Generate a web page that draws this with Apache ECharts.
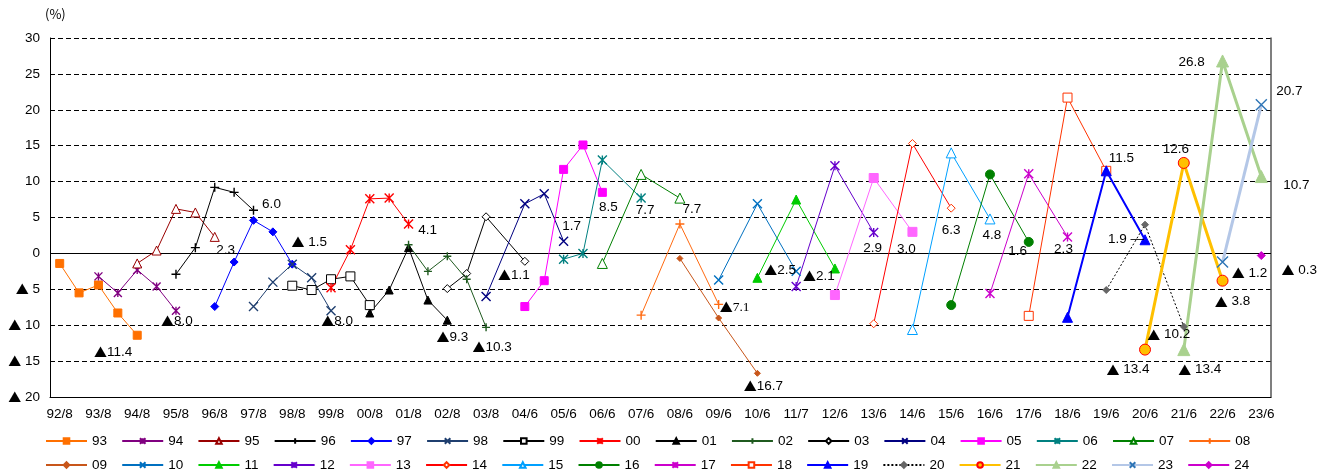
<!DOCTYPE html>
<html><head><meta charset="utf-8">
<script src="https://cdn.jsdelivr.net/npm/echarts@6/dist/echarts.min.js"></script>
<style>html,body{margin:0;padding:0;background:#fff}#c{width:1325px;height:473px}</style>
</head><body><div id="c"></div>
<script>
// ---- data ----
const xLabels = ['92/8','93/8','94/8','95/8','96/8','97/8','98/8','99/8','00/8','01/8','02/8','03/8',
  '04/6','05/6','06/6','07/6','08/6','09/6','10/6','11/7','12/6','13/6','14/6','15/6','16/6','17/6',
  '18/6','19/6','20/6','21/6','22/6','23/6'];
const yTicks = [-20,-15,-10,-5,0,5,10,15,20,25,30];
const seriesNames = ['93','94','95','96','97','98','99','00','01','02','03','04','05','06','07','08',
  '09','10','11','12','13','14','15','16','17','18','19','20','21','22','23','24'];
// first position (half-step slot on the axis) of each series
const seriesStart = [0,2,4,6,8,10,12,14,16,18,20,22,24,26,28,30,32,34,36,38,40,42,44,46,48,50,52,54,56,58,60,62];
const v93 = [-1.4, -5.5, -4.4, -8.3, -11.4];
const v94 = [-3.2, -5.5, -2.3, -4.6, -8.0];
const v95 = [-1.4, 0.4, 6.2, 5.7, 2.3];
const v96 = [-2.9, 0.8, 9.2, 8.5, 6.0];
const v97 = [-7.4, -1.2, 4.6, 3.0, -1.5];
const v98 = [-7.4, -4.0, -1.5, -3.4, -8.0];
const v99 = [-4.5, -5.1, -3.6, -3.2, -7.2];
const v00 = [-4.8, 0.5, 7.6, 7.7, 4.1];
const v01 = [-8.3, -5.1, 0.8, -6.5, -9.3];
const v02 = [1.2, -2.5, -0.4, -3.6, -10.3];
const v03 = [-4.9, -2.8, 5.1, null, -1.1];
const v04 = [-6.0, null, 6.9, 8.3, 1.7];
const v05 = [-7.4, -3.8, 11.7, 15.1, 8.5];
const v06 = [-0.8, 0.0, 13.0, null, 7.7];
const v07 = [-1.4, null, 11.0, null, 7.7];
const v08 = [-8.6, null, 4.1, null, -7.1];
const v09 = [-0.7, null, -9.0, null, -16.7];
const v10 = [-3.7, null, 6.9, null, -2.5];
const v11 = [-3.4, null, 7.5, null, -2.1];
const v12 = [-4.6, null, 12.2, null, 2.9];
const v13 = [-5.8, null, 10.5, null, 3.0];
const v14 = [-9.8, null, 15.3, null, 6.3];
const v15 = [-10.6, null, 14.0, null, 4.8];
const v16 = [-7.2, null, 11.0, null, 1.6];
const v17 = [-5.6, null, 11.1, null, 2.3];
const v18 = [-8.7, null, 21.7, null, 11.5];
const v19 = [-8.9, null, 11.5, null, 1.9];
const v20 = [-5.1, null, 4.0, null, -10.2];
const v21 = [-13.4, null, 12.6, null, -3.8];
const v22 = [-13.4, null, 26.8, null, 10.7];
const v23 = [-1.2, null, 20.7];
const v24 = [-0.3];
const seriesValues = [v93,v94,v95,v96,v97,v98,v99,v00,v01,v02,v03,v04,v05,v06,v07,v08,
  v09,v10,v11,v12,v13,v14,v15,v16,v17,v18,v19,v20,v21,v22,v23,v24];

// ---- styles ----
const SX = 'path://M0,0L10,10M10,0L0,10';
const SP = 'path://M5,0L5,10M0,5L10,5';
const SA = 'path://M0,0L10,10M10,0L0,10M5,0L5,10';
const styles = {
  '93':{c:'#FF7000', s:'rect', z:7},
  '94':{c:'#800080', s:SA, z:8, stroke:true},
  '95':{c:'#990000', s:'triangle', open:true, z:8},
  '96':{c:'#000000', s:SP, z:9, stroke:true},
  '97':{c:'#0000FF', s:'diamond', z:8},
  '98':{c:'#1F3F6F', s:SX, z:8, stroke:true},
  '99':{c:'#000000', s:'rect', open:true, z:8},
  '00':{c:'#FF0000', s:SA, z:8, stroke:true},
  '01':{c:'#000000', s:'triangle', z:8},
  '02':{c:'#1F5A1F', s:SP, z:8, stroke:true},
  '03':{c:'#000000', s:'diamond', open:true, z:7},
  '04':{c:'#000080', s:SX, z:8, stroke:true},
  '05':{c:'#FF00FF', s:'rect', z:8},
  '06':{c:'#008080', s:SA, z:8, stroke:true},
  '07':{c:'#008000', s:'triangle', open:true, z:8},
  '08':{c:'#FF6A10', s:SP, z:8, stroke:true},
  '09':{c:'#C8561A', s:'diamond', z:5},
  '10':{c:'#0070C0', s:SX, z:8, stroke:true},
  '11':{c:'#00CC00', s:'triangle', z:8},
  '12':{c:'#6600CC', s:SA, z:8, stroke:true},
  '13':{c:'#FF66FF', s:'rect', z:8},
  '14':{c:'#FF0000', s:'diamond', open:true, z:8, mc:'#FF3300'},
  '15':{c:'#00A0FF', s:'triangle', open:true, z:8},
  '16':{c:'#008000', s:'circle', z:8},
  '17':{c:'#CC00CC', s:SA, z:8, stroke:true},
  '18':{c:'#FF3300', s:'rect', open:true, z:8},
  '19':{c:'#0000FF', s:'triangle', z:8, w:2},
  '20':{c:'#000000', s:'diamond', z:8, dotted:true, mc:'#666666'},
  '21':{c:'#FFC000', s:'circle', z:8, w:3, border:'#FF0000'},
  '22':{c:'#A9D18E', s:'triangle', z:8, w:3},
  '23':{c:'#B4C7E7', s:SX, z:8, w:3, stroke:true, mc:'#2E75B6'},
  '24':{c:'#CC00CC', s:'diamond', z:8, w:3}
};
const sizes = {'93':8,'94':8,'95':9,'96':9,'97':8,'98':9,'99':9,'00':9,'01':8,'02':8,'03':8,'04':9,
  '05':8,'06':9,'07':10,'08':9,'09':6,'10':9,'11':9,'12':9,'13':9,'14':8,'15':10,'16':9,'17':9,'18':9,
  '19':10,'20':7,'21':11,'22':12,'23':11,'24':8};

// ---- data labels: [series, index in values, dx, dy, spaced ▲, serif] ----
const labelSpecs = [
  ['93',4,-24,17,false],['94',4,1,10,false],['95',4,11,13,false],['96',4,18,-6,false],
  ['97',4,17,-22,true],['98',4,6,10,false],['00',4,19,6,false],['01',4,5,17,false],
  ['02',4,6,20,false],['03',4,-11,14,false],['04',4,8,-15,false],['05',4,6,15,false],
  ['06',4,4,12,false],['07',4,12,11,false],['08',4,16,3,false,true],['09',4,6,13,false],
  ['10',4,-16,-1,false],['11',4,-16,8,false],['12',4,-1,16,false],['13',4,-6,17,false],
  ['14',4,0,22,false],['15',4,2,16,false],['16',4,-11,9,false],['17',4,-4,12,false],
  ['18',4,15,-13,false],['19',4,-19,0,false],['20',4,-15,8,true],
  ['21',0,-17,20,true],['21',2,-8,-14,true],['21',4,10,21,true],
  ['22',0,16,20,true],['22',2,-31,1,true],['22',4,35,9,true],
  ['23',0,27,11,true],['23',2,28,-13,true],['24',0,38,15,true]
];

const FONT = "'Liberation Sans', Arial, sans-serif";
const CJK = "'Noto Sans CJK JP', sans-serif";
const FS = 13.5;
const richT = {t: {fontFamily: CJK, fontSize: 13, color: '#000'}};
const fmtV = (v, sp) => v < 0 ? '{t|▲}' + (sp ? ' ' : '') + (-v).toFixed(1) : v.toFixed(1);

const NPOS = xLabels.length * 2 - 1;
const cats = [];
for (let i = 0; i < NPOS; i++) cats.push(i % 2 === 0 ? xLabels[i / 2] : '');

const series = seriesNames.map((name, si) => {
  const st = styles[name];
  const data = new Array(NPOS).fill(null);
  seriesValues[si].forEach((v, k) => { data[seriesStart[si] + k] = v; });
  labelSpecs.filter(l => l[0] === name).forEach(l => {
    const pos = seriesStart[si] + l[1];
    const v = data[pos];
    let txt = fmtV(v, l[4]);
    if (name === '19') txt = txt + ' —';
    data[pos] = {
      value: v,
      label: {show: true, formatter: txt, position: 'inside', offset: [l[2], l[3]],
        color: '#000', fontSize: FS, fontFamily: l[5] ? "'Liberation Serif', serif" : FONT, rich: richT}
    };
  });
  const mc = st.mc || st.c;
  return {
    type: 'line', name, data, connectNulls: true, symbol: st.s, symbolSize: sizes[name],
    showSymbol: true, showAllSymbol: true, animation: false, z: st.z,
    lineStyle: {color: st.c, width: st.w || 1, type: st.dotted ? [2, 2] : 'solid'},
    itemStyle: {color: st.open ? '#ffffff' : mc, borderColor: st.border || mc,
      borderWidth: st.stroke ? 1.4 : 1},
    emphasis: {disabled: true},
    label: {show: false}
  };
});
// zero line
series[0].markLine = {silent: true, symbol: 'none', animation: false, label: {show: false},
  lineStyle: {color: '#000', type: 'solid', width: 1}, data: [{yAxis: 0}]};

const legendCommon = {itemWidth: 41, itemHeight: 7, itemGap: 14.2, orient: 'horizontal',
  textStyle: {fontSize: FS, fontFamily: FONT, color: '#000'}, left: 45, padding: 0};

const chart = echarts.init(document.getElementById('c'), null, {renderer: 'canvas'});
chart.setOption({
  backgroundColor: '#fff',
  animation: false,
  textStyle: {fontFamily: FONT},
  grid: {left: 50, right: 54, top: 38, bottom: 76, containLabel: false},
  graphic: [{type: 'text', left: 45, top: 8, style: {text: '(%)', fontSize: 13,
    fontFamily: CJK, fill: '#000'}}],
  legend: [
    Object.assign({}, legendCommon, {top: 434, data: seriesNames.slice(0, 16)}),
    Object.assign({}, legendCommon, {top: 458, data: seriesNames.slice(16)})
  ],
  xAxis: [{
    type: 'category', data: cats, boundaryGap: true,
    axisLine: {onZero: false, lineStyle: {color: '#000', width: 1}},
    axisTick: {show: false},
    axisLabel: {interval: 0, color: '#000', fontSize: FS, fontFamily: FONT, margin: 10},
    splitLine: {show: false}
  }],
  yAxis: [{
    type: 'value', min: -20, max: 30, interval: 5,
    axisLine: {show: true, lineStyle: {color: '#000', width: 1}},
    axisTick: {show: false},
    axisLabel: {color: '#000', fontSize: FS, fontFamily: FONT, margin: 10, rich: richT,
      formatter: v => yTicks.includes(v) ? (v < 0 ? '{t|▲} ' + (-v) : String(v)) : ''},
    splitLine: {show: true, lineStyle: {color: '#000', type: [5, 3], width: 1}}
  }, {
    type: 'value', min: -20, max: 30, interval: 5, position: 'right',
    axisLine: {show: true, lineStyle: {color: '#555', width: 1.5}},
    axisTick: {show: false}, axisLabel: {show: false}, splitLine: {show: false}
  }],
  series
});
</script></body></html>
